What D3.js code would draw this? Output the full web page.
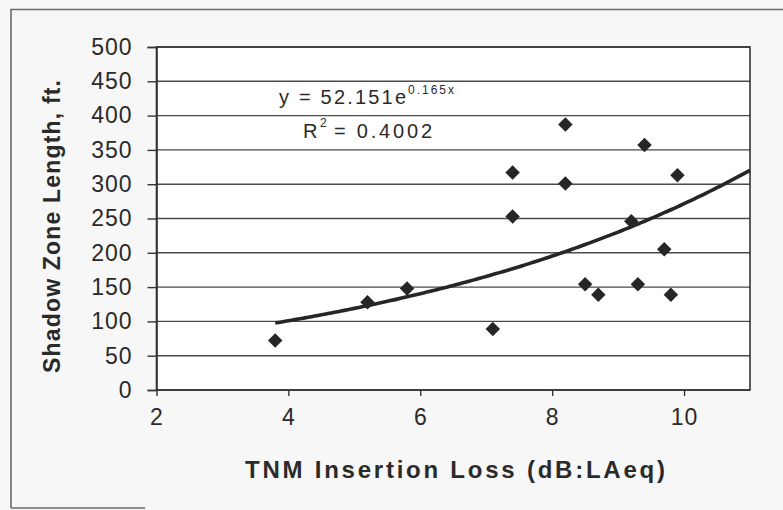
<!DOCTYPE html>
<html>
<head>
<meta charset="utf-8">
<script src="https://cdn.jsdelivr.net/npm/d3@7"></script>
<style>
  html, body { margin: 0; padding: 0; background: #f7f7f7; }
  svg { display: block; }
  text { font-family: Arial, "Liberation Sans", sans-serif; fill: #2a2a2a; }
</style>
</head>
<body>
<svg id="chart" width="783" height="510"></svg>
<script>
// Insertion loss (dB) vs shadow zone length (ft)
const insertionLoss = [3.8, 5.2, 5.8, 7.1, 7.4, 7.4, 8.2, 8.2, 8.5, 8.7, 9.2, 9.3, 9.4, 9.7, 9.8, 9.9];
const shadowLength  = [72, 128, 148, 89, 317, 253, 387, 301, 154, 139, 246, 154, 357, 205, 139, 313];

// Exponential fit reported on the chart: y = a * e^(b x)
const fitA = 52.151;
const fitB = 0.165;
const fitR2 = 0.4002;
const fitRange = [3.8, 11];

const xTicks = [2, 4, 6, 8, 10];
const yTicks = [0, 50, 100, 150, 200, 250, 300, 350, 400, 450, 500];

const svg = d3.select("#chart");
const W = 783, H = 510;
const plot = { left: 156.5, top: 47, right: 750, bottom: 390 };

// outer frame (left, top and a short bottom segment)
const frame = svg.append("g").attr("stroke", "#6a6a6a").attr("stroke-width", 1.6).attr("fill", "none");
frame.append("path").attr("d", `M11,508 L11,9.5 L${W},9.5`);
frame.append("path").attr("d", `M11,508 L145,508`);

const x = d3.scaleLinear().domain([2, 11]).range([plot.left, plot.right]);
const y = d3.scaleLinear().domain([0, 500]).range([plot.bottom, plot.top]);

// plot area
svg.append("rect")
  .attr("x", plot.left).attr("y", plot.top)
  .attr("width", plot.right - plot.left).attr("height", plot.bottom - plot.top)
  .attr("fill", "#ffffff");

// horizontal gridlines
svg.append("g")
  .selectAll("line")
  .data(yTicks)
  .join("line")
  .attr("x1", plot.left).attr("x2", plot.right)
  .attr("y1", d => y(d)).attr("y2", d => y(d))
  .attr("stroke", "#4a4a4a").attr("stroke-width", 1.4);

// plot border
svg.append("rect")
  .attr("x", plot.left).attr("y", plot.top)
  .attr("width", plot.right - plot.left).attr("height", plot.bottom - plot.top)
  .attr("fill", "none").attr("stroke", "#333").attr("stroke-width", 1.6);

// y axis
const yAxis = svg.append("g")
  .attr("transform", `translate(${plot.left},0)`)
  .call(d3.axisLeft(y).tickValues(yTicks).tickSize(9).tickPadding(15).tickFormat(d3.format("d")));
yAxis.select(".domain").attr("stroke", "#333").attr("stroke-width", 1.6);
yAxis.selectAll(".tick line").attr("stroke", "#333").attr("stroke-width", 1.4);
yAxis.selectAll(".tick text")
  .attr("font-size", 23).attr("fill", "#2a2a2a")
  .attr("font-family", "Arial, 'Liberation Sans', sans-serif")
  .attr("letter-spacing", 1);

// x axis
const xAxis = svg.append("g")
  .attr("transform", `translate(0,${plot.bottom})`)
  .call(d3.axisBottom(x).tickValues(xTicks).tickSize(6).tickPadding(13).tickFormat(d3.format("d")));
xAxis.select(".domain").remove();
xAxis.selectAll(".tick line").attr("stroke", "#333").attr("stroke-width", 1.4);
xAxis.selectAll(".tick text")
  .attr("font-size", 23).attr("fill", "#2a2a2a")
  .attr("font-family", "Arial, 'Liberation Sans', sans-serif")
  .attr("letter-spacing", 1);

// axis titles
svg.append("text")
  .attr("x", 245).attr("y", 478)
  .attr("font-size", 24).attr("font-weight", "bold")
  .attr("textLength", 420).attr("lengthAdjust", "spacing")
  .attr("fill", "#3a3a3a")
  .text("TNM Insertion Loss (dB:LAeq)");

svg.append("text")
  .attr("transform", "translate(60,373) rotate(-90)")
  .attr("x", 0).attr("y", 0)
  .attr("font-size", 23).attr("font-weight", "bold")
  .attr("textLength", 293).attr("lengthAdjust", "spacing")
  .attr("fill", "#3a3a3a")
  .text("Shadow Zone Length, ft.");

// trendline from the fitted equation
const fitXs = d3.range(fitRange[0], fitRange[1] + 1e-9, 0.05);
const trend = d3.line()
  .x(d => x(d))
  .y(d => y(fitA * Math.exp(fitB * d)));
svg.append("path")
  .datum(fitXs)
  .attr("d", trend)
  .attr("fill", "none")
  .attr("stroke", "#262626")
  .attr("stroke-width", 3.6)
  .attr("stroke-linejoin", "round");

// data markers (diamonds)
const diamond = d3.symbol().type(d3.symbolSquare).size(105);
svg.append("g")
  .selectAll("path")
  .data(insertionLoss.map((v, i) => [v, shadowLength[i]]))
  .join("path")
  .attr("d", diamond)
  .attr("transform", d => `translate(${x(d[0])},${y(d[1])}) rotate(45)`)
  .attr("fill", "#262626");

// equation and R-squared
const eq = svg.append("g").attr("fill", "#2a2a2a");
eq.append("text").attr("x", 279).attr("y", 104)
  .attr("font-size", 20).attr("textLength", 127).attr("lengthAdjust", "spacing")
  .text(`y = ${fitA}e`);
eq.append("text").attr("x", 408).attr("y", 94)
  .attr("font-size", 12).attr("textLength", 46).attr("lengthAdjust", "spacing")
  .text(`${fitB}x`);
eq.append("text").attr("x", 303).attr("y", 138)
  .attr("font-size", 20)
  .text("R");
eq.append("text").attr("x", 320).attr("y", 127)
  .attr("font-size", 12)
  .text("2");
eq.append("text").attr("x", 334).attr("y", 138)
  .attr("font-size", 20).attr("textLength", 98).attr("lengthAdjust", "spacing")
  .text(`= ${fitR2.toFixed(4)}`);
</script>
</body>
</html>
